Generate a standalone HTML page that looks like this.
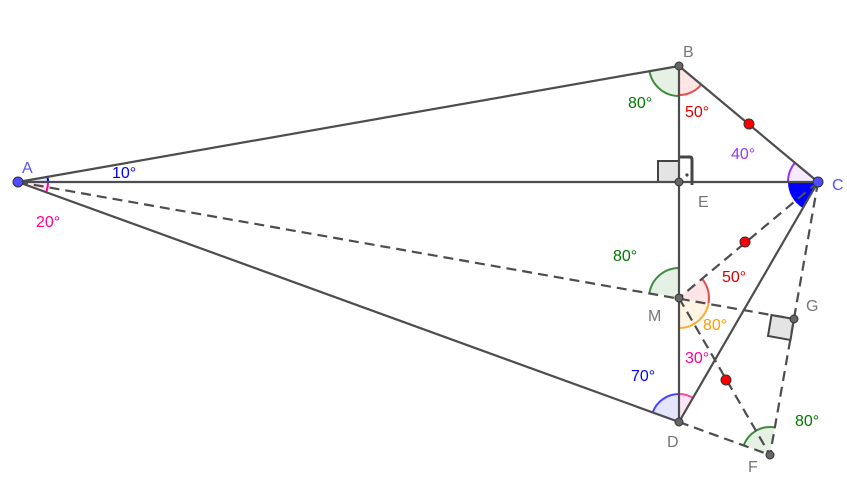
<!DOCTYPE html>
<html><head><meta charset="utf-8"><style>
html,body{margin:0;padding:0;background:#fff;width:847px;height:484px;overflow:hidden}
text{font-family:"Liberation Sans",sans-serif;font-size:16px}
</style></head><body>
<svg width="847" height="484" viewBox="0 0 847 484" xmlns="http://www.w3.org/2000/svg">
<g stroke-width="2">
<path d="M18,182 L47.5,176.8 A30,30 0 0 1 48,182 Z" fill="#0000ff" fill-opacity="0.1" stroke="none"/>
<path d="M47.5,176.8 A30,30 0 0 1 48,182" fill="none" stroke="#0000ff"/>
<path d="M18,182 L48,182 A30,30 0 0 1 46.2,192.3 Z" fill="#ff0099" fill-opacity="0.1" stroke="none"/>
<path d="M48,182 A30,30 0 0 1 46.2,192.3" fill="none" stroke="#ff0099"/>

<path d="M679,66 L679,96 A30,30 0 0 1 649.5,71.2 Z" fill="#007700" fill-opacity="0.1"/>
<path d="M679,96 A30,30 0 0 1 649.5,71.2" fill="none" stroke="#3d8b3d"/>
<path d="M679,66 L701.3,84.6 A29,29 0 0 1 679,95 Z" fill="#ff0000" fill-opacity="0.1"/>
<path d="M701.3,84.6 A29,29 0 0 1 679,95" fill="none" stroke="#e05050"/>

<path d="M818,182 L788,182 A30,30 0 0 1 795,162.7 Z" fill="#9933ff" fill-opacity="0.1"/>
<path d="M788,182 A30,30 0 0 1 795,162.7" fill="none" stroke="#9933ff"/>
<path d="M818,182 L803,208 A30,30 0 0 1 788,182 Z" fill="#0000ff"/>

<path d="M679,298 L649.5,292.8 A30,30 0 0 1 679,268 Z" fill="#007700" fill-opacity="0.1"/>
<path d="M649.5,292.8 A30,30 0 0 1 679,268" fill="none" stroke="#3d8b3d"/>
<path d="M679,298 L702,278.7 A30,30 0 0 1 708.5,303.2 Z" fill="#ff0000" fill-opacity="0.1"/>
<path d="M702,278.7 A30,30 0 0 1 708.5,303.2" fill="none" stroke="#e05050"/>
<path d="M679,298 L708.5,303.2 A30,30 0 0 1 679,328 Z" fill="#ff9900" fill-opacity="0.1"/>
<path d="M708.5,303.2 A30,30 0 0 1 679,328" fill="none" stroke="#ffaa33"/>

<path d="M679,422 L652.7,412.4 A28,28 0 0 1 679,394 Z" fill="#0000ff" fill-opacity="0.1"/>
<path d="M652.7,412.4 A28,28 0 0 1 679,394" fill="none" stroke="#4444ff"/>
<path d="M679,422 L679,394 A28,28 0 0 1 693,397.8 Z" fill="#ff0099" fill-opacity="0.1"/>
<path d="M679,394 A28,28 0 0 1 693,397.8" fill="none" stroke="#ff44aa"/>

<path d="M770,455 L743.7,445.4 A28,28 0 0 1 774.9,427.4 Z" fill="#007700" fill-opacity="0.1"/>
<path d="M743.7,445.4 A28,28 0 0 1 774.9,427.4" fill="none" stroke="#3d8b3d"/>
</g>
<rect x="658" y="161" width="21" height="21" fill="#e4e4e4" stroke="#444" stroke-width="2"/>
<path d="M679,157 L690,157 Q692,157 692,160 L692,185" fill="none" stroke="#444" stroke-width="3"/>
<circle cx="687" cy="175" r="1.6" fill="#444"/>
<path d="M794,319 L771.5,315 L768,336 L790.5,340 Z" fill="#e4e4e4" stroke="#444" stroke-width="2"/>
<g stroke="#4d4d4d" stroke-width="2.2" fill="none">
<line x1="18" y1="182" x2="679" y2="66"/>
<line x1="18" y1="182" x2="818" y2="182"/>
<line x1="18" y1="182" x2="679" y2="422"/>
<line x1="679" y1="66" x2="818" y2="182"/>
<line x1="679" y1="66" x2="679" y2="422"/>
<line x1="818" y1="182" x2="679" y2="422"/>
</g>
<g stroke="#4d4d4d" stroke-width="2.2" fill="none" stroke-dasharray="10,6">
<line x1="18" y1="182" x2="794" y2="319"/>
<line x1="818" y1="182" x2="679" y2="298"/>
<line x1="679" y1="298" x2="770" y2="455"/>
<line x1="679" y1="422" x2="770" y2="455"/>
<line x1="818" y1="182" x2="770" y2="455"/>
</g>
<g stroke="#333" stroke-width="1">
<circle cx="18" cy="182" r="5" fill="#4d4dff"/>
<circle cx="818" cy="182" r="5" fill="#4d4dff"/>
<circle cx="679" cy="66" r="4" fill="#666"/>
<circle cx="679" cy="182" r="4" fill="#666"/>
<circle cx="679" cy="298" r="4" fill="#666"/>
<circle cx="679" cy="422" r="4" fill="#666"/>
<circle cx="770" cy="455" r="4" fill="#666"/>
<circle cx="794" cy="319" r="4" fill="#666"/>
<circle cx="749" cy="124" r="5" fill="#ff0000"/>
<circle cx="745" cy="242" r="5" fill="#ff0000"/>
<circle cx="726" cy="380" r="5" fill="#ff0000"/>
</g>
<text x="22" y="173" fill="#5555ff">A</text>
<text x="683" y="57" fill="#777">B</text>
<text x="832" y="190" fill="#5555ff">C</text>
<text x="698" y="207" fill="#777">E</text>
<text x="648" y="321" fill="#777">M</text>
<text x="667" y="447" fill="#777">D</text>
<text x="748" y="472" fill="#777">F</text>
<text x="806" y="311" fill="#777">G</text>
<text x="112" y="178" fill="#0000ff">10°</text>
<text x="36" y="227" fill="#ff0099">20°</text>
<text x="628" y="108" fill="#007700">80°</text>
<text x="685" y="117" fill="#dd0000">50°</text>
<text x="731" y="159" fill="#9933ff">40°</text>
<text x="613" y="261" fill="#007700">80°</text>
<text x="722" y="282" fill="#dd0000">50°</text>
<text x="703" y="330" fill="#ff9900">80°</text>
<text x="685" y="363" fill="#ff0099">30°</text>
<text x="631" y="381" fill="#0000ff">70°</text>
<text x="795" y="426" fill="#007700">80°</text>
</svg>
</body></html>
